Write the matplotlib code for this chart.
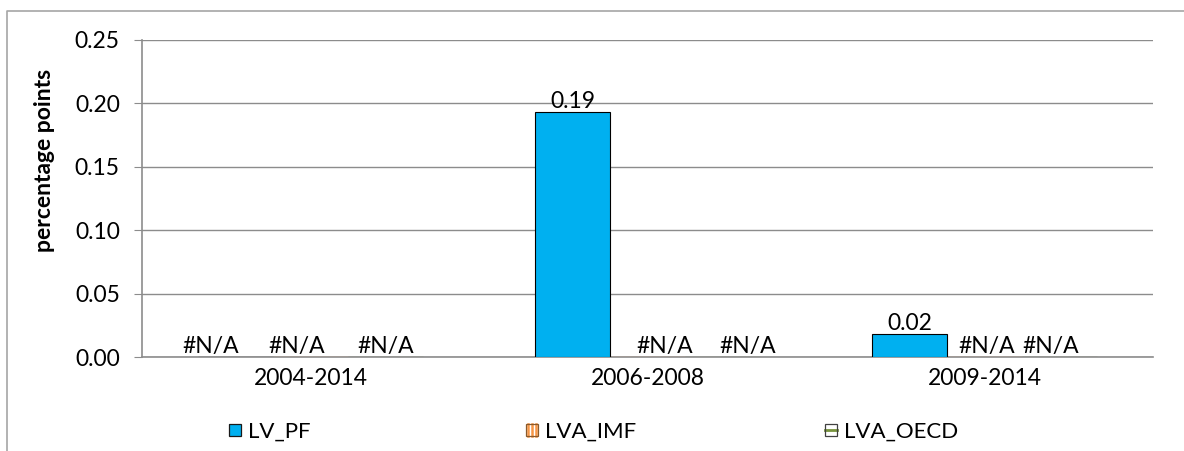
import numpy as np
import matplotlib
matplotlib.use("Agg")
import matplotlib.pyplot as plt
from matplotlib.patches import Patch, Rectangle
from matplotlib.lines import Line2D
from matplotlib.legend_handler import HandlerBase

categories = ["2004-2014", "2006-2008", "2009-2014"]
series_names = ["LV_PF", "LVA_IMF", "LVA_OECD"]
lv_pf = [np.nan, 0.193, 0.0185]
lva_imf = [np.nan, np.nan, np.nan]
lva_oecd = [np.nan, np.nan, np.nan]
series_values = [lv_pf, lva_imf, lva_oecd]
value_labels = [["#N/A", "0.19", "0.02"],
                ["#N/A", "#N/A", "#N/A"],
                ["#N/A", "#N/A", "#N/A"]]
yticks = [0.00, 0.05, 0.10, 0.15, 0.20, 0.25]

# manual label nudges (pixels), as placed in the original chart
label_dx = [[-25, 0, 0],
            [-14, 17, 2],
            [0, 25, -9]]

plt.rcParams['font.family'] = ['Lato', 'DejaVu Sans']
plt.rcParams['hatch.linewidth'] = 1.6
W, H = 1184, 451
fig = plt.figure(figsize=(W / 100, H / 100), dpi=100)
ax = fig.add_axes([142 / W, 1 - 357 / H, (1153 - 142) / W, (357 - 40) / H])

FS = 16.5
grid_c = "#8c8c8c"
x = np.arange(len(categories))
bw = 0.2225
offsets = [-bw, 0, bw]
face = ["#00B0F0", "white", "white"]
hatch = [None, "||||", None]
edge = ["black", "#F79646", "#4F6228"]
for s, (vals, off) in enumerate(zip(series_values, offsets)):
    v = np.array(vals, dtype=float)
    ax.bar(x + off, np.nan_to_num(v), width=bw, color=face[s],
           edgecolor=edge[s], linewidth=0.8,
           hatch=hatch[s], zorder=3)
    for i in range(len(categories)):
        yv = 0 if np.isnan(v[i]) else v[i]
        ax.annotate(value_labels[s][i], (x[i] + off, yv),
                    xytext=(label_dx[s][i], 0), textcoords="offset pixels",
                    ha="center", va="bottom", fontsize=FS, color="black",
                    zorder=4)

ax.set_xlim(-0.5, 2.5)
ax.set_ylim(0, 0.25)
ax.set_yticks(yticks)
ax.set_yticklabels([f"{t:.2f}" for t in yticks], fontsize=FS)
ax.set_xticks(x)
ax.set_xticklabels(categories, fontsize=FS)
ax.tick_params(axis="x", length=0, pad=8)
ax.tick_params(axis="y", length=6, color=grid_c, pad=10)
ax.yaxis.grid(True, color=grid_c, linewidth=1, zorder=0)
ax.set_axisbelow(True)
for sp in ["top", "right"]:
    ax.spines[sp].set_visible(False)
ax.spines["left"].set_color(grid_c)
ax.spines["bottom"].set_color(grid_c)
ax.spines["left"].set_linewidth(1.2)
ax.spines["bottom"].set_linewidth(1.2)
ax.set_ylabel("percentage points", fontsize=16.5, fontweight="bold")
ax.yaxis.set_label_coords((45 - 142) / 1011, (357 - 160) / 317)
ax.yaxis.label.set_va("center")


class SwatchHandler(HandlerBase):
    def __init__(self, face, edgec, vlines=None, midline=None):
        super().__init__()
        self.face, self.edgec = face, edgec
        self.vlines, self.midline = vlines, midline

    def create_artists(self, legend, orig_handle, xdescent, ydescent,
                       width, height, fontsize, trans):
        side = min(width, height)
        x0 = -xdescent
        y0 = -ydescent + (height - side) / 2
        arts = [Rectangle((x0, y0), side, side, facecolor=self.face,
                          edgecolor="none", transform=trans)]
        if self.vlines:
            for f in (0.2, 0.5, 0.8):
                arts.append(Line2D([x0 + f * side] * 2, [y0, y0 + side],
                                   color=self.vlines, linewidth=1.8,
                                   transform=trans))
        if self.midline:
            arts.append(Line2D([x0, x0 + side],
                               [y0 + side / 2, y0 + side / 2],
                               color=self.midline, linewidth=2.0,
                               transform=trans))
        arts.append(Rectangle((x0, y0), side, side, facecolor="none",
                              edgecolor=self.edgec, linewidth=0.9,
                              transform=trans))
        return arts


leg_x = [229, 526, 825]
handlers = [SwatchHandler("#00B0F0", "#1a1a1a"),
            SwatchHandler("white", "#8a5a2b", vlines="#F79646"),
            SwatchHandler("white", "#404040", midline="#77933C")]
for s in range(3):
    h = Patch()
    fig.legend([h], [series_names[s]], loc="center left",
               bbox_to_anchor=(leg_x[s] / W, 1 - 432 / H), frameon=False,
               fontsize=16, handlelength=0.55, handleheight=0.55,
               handletextpad=0.3, borderpad=0, borderaxespad=0,
               handler_map={h: handlers[s]})

# outer chart border
fig.add_artist(Line2D([7 / W, 7 / W, 1.0], [0, 1 - 11 / H, 1 - 11 / H],
                      transform=fig.transFigure, color="#a6a6a6", linewidth=1.2))

fig.savefig("out.png", dpi=100, facecolor="white")
